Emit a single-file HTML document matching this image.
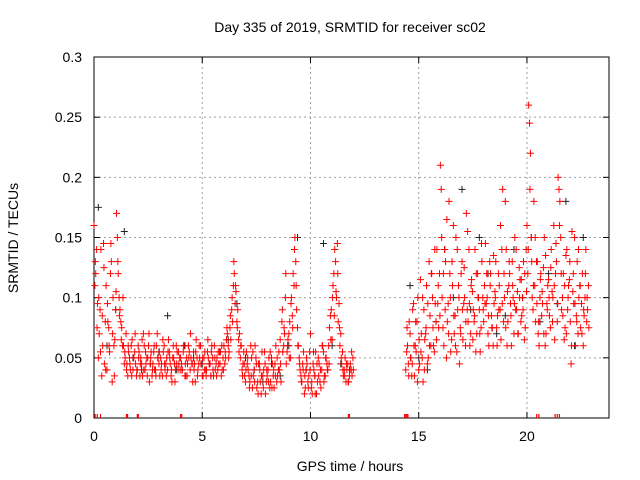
<!DOCTYPE html>
<html><head><meta charset="utf-8"><style>
html,body{margin:0;padding:0;background:#fff;}
svg{display:block;font-family:"Liberation Sans",sans-serif;}
</style></head><body>
<svg id="chart" width="640" height="480">
<text x="350" y="32" font-size="14" text-anchor="middle">Day 335 of 2019, SRMTID for receiver sc02</text>
<text x="350" y="471" font-size="14" text-anchor="middle">GPS time / hours</text>
<text x="18" y="238" font-size="14" text-anchor="middle" transform="rotate(-90 18 238)">SRMTID / TECUs</text>
</svg>
<script>
const xTicks=[0,5,10,15,20];
const yTicks=[0,0.05,0.1,0.15,0.2,0.25,0.3];
const yTickLabels=["0","0.05","0.1","0.15","0.2","0.25","0.3"];
const segA={start:0,step:0.08};
const segB={start:14.4,step:0.08};
const redA1=[160,120,95,70,140,60,45,110,80,55,130,100,65,
170,120,90,75,60,50,45,55,40,65,50,45,
40,55,50,35,60,45,50,30,55,45,40,60,50,35,45,55,40,50,65,45,30,50,40,55,45,
50,40,60,35,45,55,50,30,45,65,40,50,45,35,55,40,50,45,60,35,40,50,45,55,40,60,50,70,55,65,80,
120,105,90,70,60,45,35,55,40,30,50,35,60,25,45,30,55,40,20,35,50,30,45,25,60,35,40,30,55,70,45,
65,80,100,120,150,90,60,40,30,55,25,45,35,70,20,40,55,30,45,25,60,35,50,40,75,90,110,140,100,80,60,45,35,50,40,30,45,35];
const redA2=[110,140,50,90,35,145,80,40,75,120,30,60,90,
150,100,80,60,45,70,35,50,60,40,55,35,
60,35,45,70,40,50,60,45,35,55,40,70,45,50,35,60,45,40,55,35,50,45,60,40,50,
45,55,35,50,60,40,45,55,30,50,45,60,35,50,40,55,45,35,50,60,45,40,55,35,50,45,65,60,75,90,110,
95,80,65,50,40,55,30,45,35,60,25,40,50,30,45,20,35,55,30,40,25,50,35,45,30,40,65,80,60,100,55,
70,50,85,110,130,75,50,35,45,20,40,30,55,25,45,35,20,50,30,40,55,35,45,60,85,65,120,130,145,95,70,55,40,30,45,35,40,50];
const redA3=[130,75,100,55,85,125,40,95,60,145,70,35,105,
130,85,65,100,55,40,60,45,35,50,70,40,
50,45,65,40,55,35,70,50,40,60,35,50,55,40,65,45,35,55,50,40,60,30,45,55,40,
40,60,45,35,50,70,45,40,55,35,60,45,50,40,35,65,45,55,40,50,35,55,45,60,40,55,75,50,85,100,130,
110,75,55,60,35,45,40,50,25,35,55,30,45,20,40,35,25,45,40,30,55,25,40,35,50,55,45,90,75,120,60,
50,95,75,140,110,60,45,30,40,35,50,25,40,30,55,20,45,35,40,60,30,50,40,45,65,100,85,105,120,75,50,40,35,45,30,40,55,40];
const redB1=[40,60,80,50,90,35,55,100,45,70,30,65,110,50,85,120,60,95,140,75,
210,100,60,130,80,180,55,110,70,150,90,45,120,65,100,170,80,60,115,90,140,70,100,55,130,
80,145,100,60,120,75,95,130,85,110,65,190,100,140,80,120,60,100,150,90,70,115,85,130,75,
160,260,220,100,180,80,130,60,120,95,150,70,110,85,140,100,65,130,200,180,90,120,75,140,110,80,155,95,60,130,100,75,120,85,140,90];
const redB2=[55,45,70,35,95,60,80,40,115,50,90,70,45,130,60,100,55,80,95,120,
190,75,140,50,95,120,65,160,85,55,110,75,130,95,60,90,140,70,105,80,55,120,90,75,100,
110,95,70,130,85,60,105,75,120,90,140,80,180,60,110,95,130,70,90,105,125,80,100,65,140,
120,245,150,90,110,130,70,100,85,125,60,95,115,75,105,160,120,80,190,150,100,65,135,90,115,45,105,150,85,70,110,95,60,100,80,110];
const redB3=[75,35,50,45,60,80,30,65,55,100,40,75,95,60,120,75,140,65,110,85,
150,120,90,165,70,100,130,85,60,140,100,70,90,125,80,155,95,110,65,85,120,100,70,145,90,
95,120,85,110,75,135,100,60,90,160,95,120,75,105,130,85,110,95,140,70,100,115,90,120,105,
140,190,130,110,150,95,80,115,105,70,135,90,100,125,80,110,145,95,160,120,85,110,70,100,130,60,120,95,80,140,110,70,90,120,100,75];
const blackA={start:0.2,step:0.4};
const blackB={start:14.6,step:0.4};
const blackAVals=[175,60,90,155,50,40,45,55,85,40,60,50,45,35,55,65,95,50,40,30,45,35,60,150,40,35,145,60,45,40];
const blackBVals=[110,50,40,80,140,100,190,90,150,120,70,85,140,100,150,80,120,95,180,60,150];
const rugTimes=[0.05,0.15,0.3,1.5,1.55,2.0,2.05,4.0,4.05,11.75,11.8,14.35,14.4,14.45,14.5,20.45,20.55,21.3,21.4,21.5];

const L=94,R=609,T=57,B=418,XMAX=23.79,YMAX=0.3;
const xs=t=>L+(t/XMAX)*(R-L);
const ys=v=>B-(v/YMAX)*(B-T);
const svg=document.getElementById('chart');
const NS='http://www.w3.org/2000/svg';
function mk(tag,attrs){const e=document.createElementNS(NS,tag);for(const k in attrs)e.setAttribute(k,attrs[k]);svg.appendChild(e);return e;}

xTicks.forEach((t,i)=>{
  if(t>0){const g=mk('line',{x1:xs(t),x2:xs(t),y1:T,y2:B,stroke:'#a0a0a0','stroke-dasharray':'2,3'});
  
  }
  const a=mk('line',{x1:xs(t),x2:xs(t),y1:B,y2:B-6,stroke:'#000'});
  
  
  const b=mk('line',{x1:xs(t),x2:xs(t),y1:T,y2:T+6,stroke:'#000'});
  
  
  const lb=mk('text',{x:xs(t),y:B+23,'font-size':14,'text-anchor':'middle'});
  lb.textContent=String(t);
  
  
});
yTicks.forEach((v,i)=>{
  if(v>0&&v<YMAX){const g=mk('line',{x1:L,x2:R,y1:ys(v),y2:ys(v),stroke:'#a0a0a0','stroke-dasharray':'2,3'});
  
  }
  const a=mk('line',{x1:L,x2:L+6,y1:ys(v),y2:ys(v),stroke:'#000'});
  
  
  const b=mk('line',{x1:R,x2:R-6,y1:ys(v),y2:ys(v),stroke:'#000'});
  
  
  const lb=mk('text',{x:L-12,y:ys(v)+5,'font-size':14,'text-anchor':'end'});
  lb.textContent=yTickLabels[i];
  
  
});
const frame=mk('rect',{x:L,y:T,width:R-L,height:B-T,fill:'none',stroke:'#000','stroke-width':1});



function cross(t,v,color,name){
  const x=xs(t),y=ys(v);
  const p=mk('path',{d:`M${x-3.5},${y}H${x+3.5}M${x},${y-3.5}V${y+3.5}`,stroke:color,'stroke-width':1,fill:'none'});
  
  
}
blackAVals.forEach((v,i)=>cross(blackA.start+i*blackA.step,v/1000,'#222','point-black'));
blackBVals.forEach((v,i)=>cross(blackB.start+i*blackB.step,v/1000,'#222','point-black'));
redA1.forEach((v,i)=>cross(segA.start+i*segA.step,v/1000,'#ff0000','point-red'));
redA2.forEach((v,i)=>cross(segA.start+i*segA.step+0.04,v/1000,'#ff0000','point-red'));
redA3.forEach((v,i)=>cross(segA.start+i*segA.step+0.06,v/1000,'#ff0000','point-red'));
redB1.forEach((v,i)=>cross(segB.start+i*segB.step,v/1000,'#ff0000','point-red'));
redB2.forEach((v,i)=>cross(segB.start+i*segB.step+0.04,v/1000,'#ff0000','point-red'));
redB3.forEach((v,i)=>cross(segB.start+i*segB.step+0.06,v/1000,'#ff0000','point-red'));
rugTimes.forEach(t=>{
  const r=mk('line',{x1:xs(t),x2:xs(t),y1:B-4,y2:B,stroke:'#ff0000','stroke-width':1.2});
  
  
});
</script>
</body></html>
